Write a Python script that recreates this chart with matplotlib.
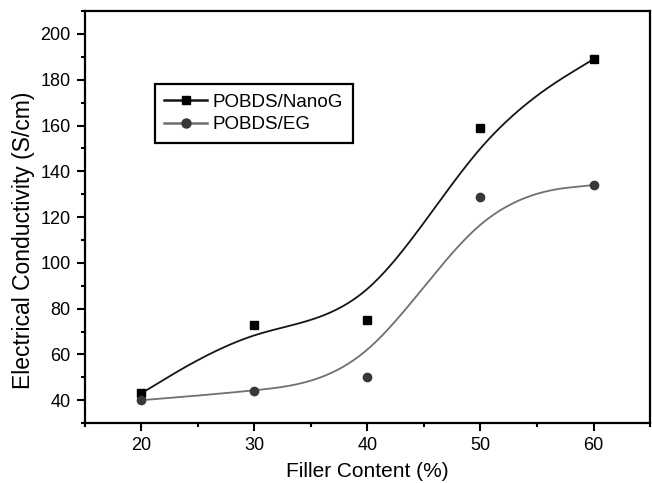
import numpy as np
import matplotlib
matplotlib.use("Agg")
import matplotlib.pyplot as plt
from matplotlib.lines import Line2D
from matplotlib.ticker import MultipleLocator

plt.rcParams["font.family"] = ["Liberation Sans", "DejaVu Sans"]

# Values
filler = [20, 30, 40, 50, 60]
nanog = [43, 73, 75, 159, 189]
eg = [40, 44, 50, 129, 134]


def bspline(xs, ys, n=60):
    """Uniform cubic B-spline using the data as control points (ends
    repeated three times so the curve starts and ends on the data)."""
    px = [xs[0]] * 2 + list(xs) + [xs[-1]] * 2
    py = [ys[0]] * 2 + list(ys) + [ys[-1]] * 2
    t = np.linspace(0, 1, n)
    b0 = (1 - t)**3 / 6
    b1 = (3*t**3 - 6*t**2 + 4) / 6
    b2 = (-3*t**3 + 3*t**2 + 3*t + 1) / 6
    b3 = t**3 / 6
    cx, cy = [], []
    for i in range(len(px) - 3):
        cx.append(b0*px[i] + b1*px[i+1] + b2*px[i+2] + b3*px[i+3])
        cy.append(b0*py[i] + b1*py[i+1] + b2*py[i+2] + b3*py[i+3])
    return np.concatenate(cx), np.concatenate(cy)


fig = plt.figure(figsize=(6.52, 4.83), dpi=100)
ax = fig.add_axes([0.130, 0.124, 0.867, 0.853])

line_n, mark_n = "#151515", "#000000"
line_e, mark_e = "#707070", "#383838"

x, y = bspline(filler, nanog)
ax.plot(x, y, color=line_n, lw=1.3)
ax.plot(filler, nanog, ls="none", marker="s", ms=5.5, color=mark_n)

x, y = bspline(filler, eg)
ax.plot(x, y, color=line_e, lw=1.3)
ax.plot(filler, eg, ls="none", marker="o", ms=6, color=mark_e)

ax.set_xlim(15, 65)
ax.set_ylim(30, 210)
ax.xaxis.set_major_locator(MultipleLocator(10))
ax.xaxis.set_minor_locator(MultipleLocator(5))
ax.yaxis.set_major_locator(MultipleLocator(20))
ax.yaxis.set_minor_locator(MultipleLocator(10))
ax.tick_params(which="both", direction="out", width=1.5, labelsize=13)
ax.tick_params(which="major", length=6, pad=4)
ax.tick_params(which="minor", length=3)
for s in ax.spines.values():
    s.set_linewidth(1.6)

ax.set_xlabel("Filler Content (%)", fontsize=15, labelpad=6)
ax.set_ylabel("Electrical Conductivity (S/cm)", fontsize=16.5)
ax.yaxis.set_label_coords(-0.088, 0.444)

handles = [
    Line2D([], [], color=line_n, lw=1.8, marker="s", ms=6, mfc=mark_n, mec=mark_n),
    Line2D([], [], color=line_e, lw=1.8, marker="o", ms=6.5, mfc=mark_e, mec=mark_e),
]
leg = ax.legend(handles, ["POBDS/NanoG", "POBDS/EG"], loc="upper left",
                bbox_to_anchor=(0.124, 0.823), borderaxespad=0, fontsize=13.5,
                fancybox=False, framealpha=1, edgecolor="black",
                handlelength=2.3, handletextpad=0.3, labelspacing=0.3,
                borderpad=0.5)
leg.get_frame().set_linewidth(1.6)

fig.savefig("out.png", dpi=100)
